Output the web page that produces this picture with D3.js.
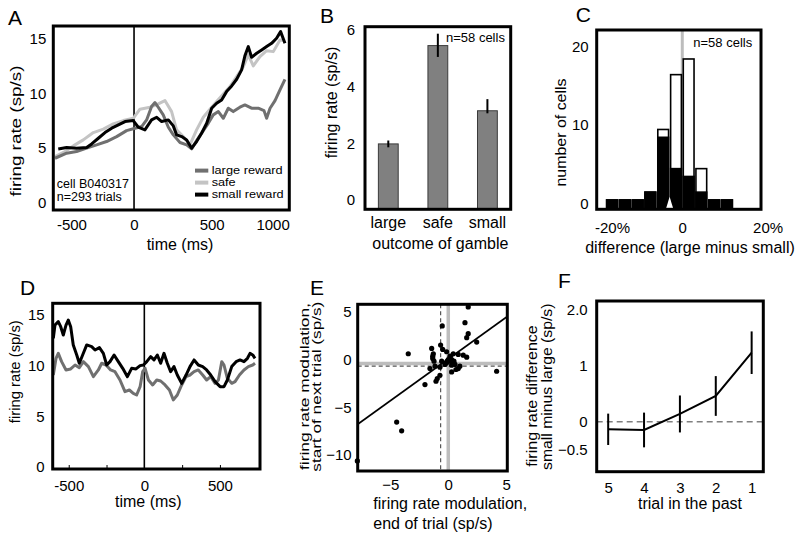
<!DOCTYPE html>
<html><head><meta charset="utf-8">
<script src="https://cdn.jsdelivr.net/npm/d3@7"></script>
<style>body{margin:0;background:#fff}</style>
</head><body>
<script>
// ---------------- DATA ----------------
// Panel A: firing rate vs time, three outcomes [time ms, sp/s]
const aLargeT = [-509,-434,-370,-305,-241,-177,-112,-48,6,49,81,113,135,156,188,221,253,296,339,371,403,446,478,510,543,575,607,639,682,714,757,800,837,854,876,908,940,972];
const aLargeV = [4.06,4.52,4.67,4.98,5.28,5.59,6.04,6.59,6.81,6.96,7.57,8.79,9.16,8.73,8.03,6.9,6.2,5.5,5.28,4.92,5.68,6.59,7.26,8.03,8.33,7.72,8.64,8.33,8.73,8.94,8.64,8.64,8.42,7.72,8.64,9.34,10.32,11.29];
const aSafeT = [-509,-445,-391,-327,-262,-198,-134,-69,-5,38,103,156,199,242,274,317,360,403,446,489,532,575,618,661,704,736,768,811,854,897,940,972];
const aSafeV = [4.21,4.67,5.19,5.74,6.41,6.72,7.2,7.51,7.72,8.55,8.73,9.03,9.34,8.33,6.66,6.04,5.28,6.66,7.81,8.55,9.25,9.95,10.62,11.53,12.45,13.52,12.51,13.36,13.91,13.82,14.89,14.83];
const aSmallT = [-488,-434,-370,-305,-273,-230,-187,-144,-101,-58,-5,27,70,113,146,178,221,253,274,307,339,371,403,435,468,500,532,564,596,629,661,693,714,736,757,790,822,854,886,918,944,972];
const aSmallV = [4.9,5.04,4.98,5.04,5.37,5.89,6.41,6.81,7.11,7.42,7.51,6.9,6.66,7.57,7.81,7.42,7.57,7.02,6.2,6.04,5.74,4.98,5.59,6.35,7.26,8.64,9.1,9.4,10.16,10.68,11.29,12.15,13.43,14.28,13.3,13.67,13.97,14.28,14.58,15.04,15.65,14.58];
const aXTicks = [-500, 0, 500, 1000];
const aYTicks = [0, 5, 10, 15];
const aLegend = ["large reward", "safe", "small reward"];

// Panel B: mean firing rate by outcome
const bCats = ["large", "safe", "small"];
const bMean = [1.98, 5.45, 3.15];
const bErrLo = [1.86, 5.05, 3.06];
const bErrHi = [2.10, 5.87, 3.56];
const bYTicks = [0, 2, 4, 6];

// Panel C: histogram of differences (%)
const cBinStart = [-21.8, -18.15, -14.5, -10.9, -7.25, -3.6, 0, 3.6, 7.25, 10.9];
const cBinWidth = 3.63;
const cAll = [1, 1, 1, 2, 10, 17, 19, 5, 1, 1];
const cSig = [1, 1, 1, 2, 9, 5, 4, 2, 1, 1];
const cMean = -3.6;
const cXTicks = [-20, 0, 20];
const cYTicks = [0, 10, 20];

// Panel D: firing rate vs time
const dBlackT = [-602,-591,-569,-553,-536,-518,-503,-487,-470,-447,-430,-408,-381,-348,-326,-297,-271,-249,-227,-200,-172,-143,-112,-84,-55,-28,-6,16,42,64,86,108,130,152,174,196,218,247,276,302,329,357,386,412,439,468,501,527,549,578,607,633,659,682,699,717,732];
const dBlackV = [12.69,14.0,14.34,13.84,13.02,14.0,14.5,13.84,12.04,11.05,10.23,11.05,12.04,11.87,11.54,11.77,11.21,10.06,10.39,11.05,10.39,9.73,8.91,9.73,9.67,10.0,10.06,10.39,10.88,10.56,11.05,10.23,11.21,10.23,9.4,9.9,9.07,8.25,9.07,9.9,10.56,10.06,9.9,9.57,9.07,8.42,7.92,7.92,8.58,9.9,10.39,10.56,10.39,10.72,11.21,11.05,10.72];
const dGrayT = [-602,-584,-569,-547,-518,-487,-458,-430,-403,-370,-337,-304,-282,-253,-223,-194,-161,-128,-99,-73,-51,-28,-11,5,27,55,82,108,137,166,192,218,247,276,302,329,357,386,412,439,468,490,512,527,549,578,600,629,659,688,717,732];
const dGrayV = [9.07,10.72,11.21,10.39,9.57,9.67,10.06,9.8,10.39,9.9,8.91,9.57,10.23,10.06,9.57,9.4,8.58,7.43,7.59,7.26,7.1,7.92,9.4,9.73,8.58,8.09,8.58,8.48,8.09,7.59,6.61,7.1,8.09,8.91,9.07,9.4,9.57,9.07,8.58,8.91,8.25,8.58,10.39,10.06,8.74,8.25,8.42,9.07,9.57,9.9,10.06,10.23];
const dXTicks = [-500, 0, 500];
const dMinorTicks = [-500, -250, 250, 500];
const dYTicks = [0, 5, 10, 15];

// Panel E: scatter of modulations
const eX = [1.72,1.44,1.72,1.59,2.45,-0.52,-3.45,-1.43,-0.66,-1.29,-1.34,-1.23,-0.48,-0.14,0.15,0.43,0.86,0,0.15,-0.14,0.29,-0.28,-1.58,-1.15,-0.72,0.29,0.58,0.86,1.0,1.59,0.29,4.17,-0.72,-0.95,-1.06,-2.01,-4.45,-4.02,-7.84,1.29,0.66,0.15,-0.09,-1.34,-0.57,0.49];
const eY = [5.93,4.28,3.12,2.7,2.24,3.93,1.02,1.58,1.93,1.02,0.53,0.24,1.47,1.23,0.77,1.02,0.95,0.42,0.24,0.07,0.42,-0.1,-0.53,-0.28,-0.39,-0.18,-0.1,-0.53,-0.28,0.66,-0.88,-0.81,-1.23,-1.58,-1.86,-2.21,-6.14,-7.05,-10.2,0.87,-0.63,0.6,0.24,0.77,0.24,0.24];
const eMeanX = -0.66, eMeanY = -0.28;
const eFitSlope = 0.875, eFitIntercept = 0.47;
const eXTicks = [-5, 0, 5];
const eYTicks = [5, 0, -5, -10];

// Panel F: difference vs trials in the past
const fTrial = [5, 4, 3, 2, 1];
const fMean = [-0.136, -0.148, 0.138, 0.459, 1.232];
const fErr = [0.28, 0.31, 0.33, 0.355, 0.38];
const fYTicks = [2, 1, 0, -0.5];

// ---------------- DRAWING ----------------
const FF = '"Liberation Sans", Arial, Helvetica, sans-serif';
const svg = d3.select("body").append("svg").attr("width", 800).attr("height", 540);
const minus = v => String(v).replace("-", "\u2212");
const TICK = 15;

function text(x, y, s, size, anchor = "start") {
  return svg.append("text").attr("x", x).attr("y", y).attr("font-family", FF)
    .attr("font-size", size).attr("text-anchor", anchor).attr("fill", "#000").text(s);
}
function rtext(bx, y, s, size, anchor = "middle", len = null) {
  const t = svg.append("text").attr("transform", `translate(${bx},${y}) rotate(-90)`)
    .attr("font-family", FF).attr("font-size", size).attr("text-anchor", anchor)
    .attr("fill", "#000").text(s);
  if (len) t.attr("textLength", len).attr("lengthAdjust", "spacingAndGlyphs");
  return t;
}
function frame(x0, y0, x1, y1) {
  svg.append("rect").attr("x", x0).attr("y", y0).attr("width", x1 - x0).attr("height", y1 - y0)
    .attr("fill", "none").attr("stroke", "#000").attr("stroke-width", 3);
}
function yAxis(scale, x0, ticks, fmt, pad, size, dy = 0) {
  const g = svg.append("g").attr("transform", `translate(${x0},0)`)
    .call(d3.axisLeft(scale).tickValues(ticks).tickSize(0).tickPadding(pad).tickFormat(fmt));
  g.select(".domain").remove();
  g.selectAll("text").attr("font-family", FF).attr("font-size", size).attr("fill", "#000")
    .attr("transform", `translate(0,${dy})`);
  return g;
}
function xAxis(scale, y0, ticks, fmt, pad, size) {
  const ax = d3.axisBottom(scale).tickSize(0).tickPadding(pad);
  if (ticks) ax.tickValues(ticks);
  if (fmt) ax.tickFormat(fmt);
  const g = svg.append("g").attr("transform", `translate(0,${y0})`).call(ax);
  g.select(".domain").remove();
  g.selectAll("text").attr("font-family", FF).attr("font-size", size).attr("fill", "#000");
  return g;
}
const zip = (a, b) => a.map((v, i) => [v, b[i]]);

// ===== Panel A =====
{
  const L = 53.3, T = 26, R = 289.3, B = 210;
  const x = d3.scaleLinear().domain([-520, 1000]).range([L, R]);
  const y = d3.scaleLinear().domain([-0.677, 16.166]).range([B, T]);
  const line = d3.line().x(d => x(d[0])).y(d => y(d[1]));
  svg.append("line").attr("x1", x(0)).attr("x2", x(0)).attr("y1", T).attr("y2", B)
    .attr("stroke", "#000").attr("stroke-width", 1.6);
  const series = [[aSafeT, aSafeV, "#c4c4c4"], [aLargeT, aLargeV, "#707070"], [aSmallT, aSmallV, "#000"]];
  series.forEach(s => svg.append("path").datum(zip(s[0], s[1])).attr("d", line)
    .attr("fill", "none").attr("stroke", s[2]).attr("stroke-width", 3).attr("stroke-linejoin", "round"));
  // legend
  const legCol = ["#707070", "#c4c4c4", "#000"];
  const legY = [170.6, 182.6, 194.6];
  const legLen = [71, 24, 72];
  aLegend.forEach((s, i) => {
    svg.append("line").attr("x1", 195).attr("x2", 208.3).attr("y1", legY[i]).attr("y2", legY[i])
      .attr("stroke", legCol[i]).attr("stroke-width", 4);
    text(211.7, legY[i] + 3.8, s, 10.5).attr("textLength", legLen[i]).attr("lengthAdjust", "spacingAndGlyphs");
  });
  text(56.7, 187.5, "cell B040317", 12.5);
  text(56.7, 200.5, "n=293 trials", 12.5);
  frame(L, T, R, B);
  yAxis(y, L, aYTicks, d => String(d), 7, TICK);
  const gx = xAxis(x, B, aXTicks, d => String(d), 9, TICK);
  gx.selectAll("text").attr("text-anchor", (d, i) => i === 0 ? "start" : (i === aXTicks.length - 1 ? "end" : "middle"));
  text(180, 249.5, "time (ms)", 16, "middle");
  rtext(20.5, 131, "firing rate (sp/s)", 15, "middle", 131);
  text(8, 25, "A", 21);
}

// ===== Panel B =====
{
  const L = 365, T = 26.7, R = 510.7, B = 209.3;
  const x = d3.scaleBand().domain(bCats).range([L, R]).paddingInner(0.6).paddingOuter(0.27);
  const y = d3.scaleLinear().domain([-0.328, 6.117]).range([B, T]);
  svg.selectAll(null).data(bCats).enter().append("rect")
    .attr("x", d => x(d)).attr("width", x.bandwidth())
    .attr("y", (d, i) => y(bMean[i])).attr("height", (d, i) => B - y(bMean[i]))
    .attr("fill", "#808080").attr("stroke", "#3a3a3a").attr("stroke-width", 1);
  svg.selectAll(null).data(bCats).enter().append("line")
    .attr("x1", d => x(d) + x.bandwidth() / 2).attr("x2", d => x(d) + x.bandwidth() / 2)
    .attr("y1", (d, i) => y(bErrLo[i])).attr("y2", (d, i) => y(bErrHi[i]))
    .attr("stroke", "#000").attr("stroke-width", 2);
  frame(L, T, R, B);
  yAxis(y, L, bYTicks, d => String(d), 10, TICK);
  xAxis(x, B, null, null, 7, 16);
  text(446, 41.5, "n=58 cells", 13);
  text(440.3, 249, "outcome of gamble", 16, "middle");
  rtext(337, 102.5, "firing rate (sp/s)", 16, "middle", 111.5);
  text(320, 23, "B", 21);
}

// ===== Panel C =====
{
  const L = 596.7, T = 30, R = 761, B = 209.3;
  const x = d3.scaleLinear().domain([-24.35, 22.4]).range([L, R]);
  const y = d3.scaleLinear().domain([0, 22.7]).range([207.8, T]);
  svg.append("line").attr("x1", x(0)).attr("x2", x(0)).attr("y1", T).attr("y2", B)
    .attr("stroke", "#bdbdbd").attr("stroke-width", 3);
  const bx = d => x(d) + 1, bw = d => x(d + cBinWidth) - x(d) - 2;
  svg.selectAll(null).data(cBinStart).enter().append("rect")
    .attr("x", bx).attr("width", bw)
    .attr("y", (d, i) => y(cAll[i])).attr("height", (d, i) => y(0) - y(cAll[i]))
    .attr("fill", "#fff").attr("stroke", "#000").attr("stroke-width", 1.6);
  svg.selectAll(null).data(cBinStart).enter().append("rect")
    .attr("x", bx).attr("width", bw)
    .attr("y", (d, i) => y(cSig[i])).attr("height", (d, i) => y(0) - y(cSig[i]))
    .attr("fill", "#000").attr("stroke", "#000").attr("stroke-width", 1.6);
  const mx = x(cMean);
  svg.append("path").attr("d", `M${mx},${y(0) - 11}L${mx - 3.8},${B}L${mx + 3.8},${B}Z`).attr("fill", "#fff");
  frame(L, T, R, B);
  yAxis(y, L, cYTicks, d => String(d), 8, TICK, -4.5);
  const gx = xAxis(x, B, cXTicks, d => d === 0 ? "0" : d + "%", 13, TICK);
  gx.selectAll("text").attr("text-anchor", (d, i) => i === cXTicks.length - 1 ? "start" : "middle");
  text(693.3, 46.5, "n=58 cells", 13);
  text(690, 252.5, "difference (large minus small)", 16, "middle");
  rtext(566, 132.5, "number of cells", 15, "middle", 108);
  text(575.7, 22, "C", 21);
}

// ===== Panel D =====
{
  const L = 52.7, T = 303.3, R = 260, B = 469;
  const x = d3.scaleLinear().domain([-606, 765]).range([L, R]);
  const y = d3.scaleLinear().domain([-0.207, 16.15]).range([B, T]);
  const line = d3.line().x(d => x(d[0])).y(d => y(d[1]));
  svg.append("line").attr("x1", x(0)).attr("x2", x(0)).attr("y1", T).attr("y2", B)
    .attr("stroke", "#000").attr("stroke-width", 1.6);
  svg.append("path").datum(zip(dGrayT, dGrayV)).attr("d", line).attr("fill", "none")
    .attr("stroke", "#707070").attr("stroke-width", 3).attr("stroke-linejoin", "round");
  svg.append("path").datum(zip(dBlackT, dBlackV)).attr("d", line).attr("fill", "none")
    .attr("stroke", "#000").attr("stroke-width", 3).attr("stroke-linejoin", "round");
  const gm = svg.append("g").attr("transform", `translate(0,${B})`)
    .call(d3.axisBottom(x).tickValues(dMinorTicks).tickSize(-4).tickFormat(""));
  gm.select(".domain").remove();
  gm.selectAll("line").attr("stroke", "#000");
  frame(L, T, R, B);
  yAxis(y, L, dYTicks, d => String(d), 8, TICK);
  xAxis(x, B, dXTicks, d => String(d), 11.5, TICK);
  text(148.3, 507, "time (ms)", 16, "middle");
  rtext(20, 371.7, "firing rate (sp/s)", 15, "middle", 103);
  text(20, 295, "D", 21);
}

// ===== Panel E =====
{
  const L = 357.7, T = 304.3, R = 507.3, B = 471;
  const x = d3.scaleLinear().domain([-7.81, 5.09]).range([L, R]);
  const y = d3.scaleLinear().domain([-11.26, 6.2]).range([B, T]);
  svg.append("line").attr("x1", L).attr("x2", R).attr("y1", y(0)).attr("y2", y(0))
    .attr("stroke", "#bdbdbd").attr("stroke-width", 3.5);
  svg.append("line").attr("x1", x(0)).attr("x2", x(0)).attr("y1", T).attr("y2", B)
    .attr("stroke", "#bdbdbd").attr("stroke-width", 3.5);
  svg.append("line").attr("x1", L).attr("x2", R).attr("y1", y(eMeanY)).attr("y2", y(eMeanY))
    .attr("stroke", "#555").attr("stroke-width", 1.2).attr("stroke-dasharray", "4,3");
  svg.append("line").attr("x1", x(eMeanX)).attr("x2", x(eMeanX)).attr("y1", T).attr("y2", B)
    .attr("stroke", "#555").attr("stroke-width", 1.2).attr("stroke-dasharray", "4,3");
  const xd = x.domain();
  svg.append("line").attr("x1", x(xd[0])).attr("x2", x(xd[1]))
    .attr("y1", y(eFitIntercept + eFitSlope * xd[0])).attr("y2", y(eFitIntercept + eFitSlope * xd[1]))
    .attr("stroke", "#000").attr("stroke-width", 1.6);
  svg.selectAll(null).data(eX).enter().append("circle")
    .attr("cx", d => x(d)).attr("cy", (d, i) => y(eY[i])).attr("r", 2.6).attr("fill", "#000");
  frame(L, T, R, B);
  yAxis(y, L, eYTicks, minus, 6, TICK, -4);
  xAxis(x, B, eXTicks, minus, 8.5, TICK);
  text(373.3, 509, "firing rate modulation,", 16);
  text(373.3, 529, "end of trial (sp/s)", 16);
  rtext(309, 470, "firing rate modulation,", 13.5, "start", 167);
  rtext(321, 471.7, "start of next trial (sp/s)", 13.5, "start", 170);
  text(310, 295, "E", 21);
}

// ===== Panel F =====
{
  const L = 596.7, T = 301, R = 763.3, B = 471.7;
  const x = d3.scaleLinear().domain([5.32, 0.675]).range([L, R]);
  const y = d3.scaleLinear().domain([-0.893, 2.155]).range([B, T]);
  svg.append("line").attr("x1", L).attr("x2", R).attr("y1", y(0)).attr("y2", y(0))
    .attr("stroke", "#808080").attr("stroke-width", 1.5).attr("stroke-dasharray", "6,4");
  svg.append("path").datum(zip(fTrial, fMean))
    .attr("d", d3.line().x(d => x(d[0])).y(d => y(d[1])))
    .attr("fill", "none").attr("stroke", "#000").attr("stroke-width", 2);
  svg.selectAll(null).data(fTrial).enter().append("line")
    .attr("x1", d => x(d)).attr("x2", d => x(d))
    .attr("y1", (d, i) => y(fMean[i] - fErr[i])).attr("y2", (d, i) => y(fMean[i] + fErr[i]))
    .attr("stroke", "#000").attr("stroke-width", 2);
  frame(L, T, R, B);
  yAxis(y, L, fYTicks, d => d === 2 ? "2.0" : minus(d), 9, TICK);
  xAxis(x, B, fTrial, d => String(d), 11, TICK);
  text(690, 509, "trial in the past", 16, "middle");
  rtext(537, 466.7, "firing rate difference", 14, "start", 141.5);
  rtext(552, 470, "small minus large (sp/s)", 14, "start", 166.5);
  text(558, 288, "F", 21);
}
</script>
</body></html>
